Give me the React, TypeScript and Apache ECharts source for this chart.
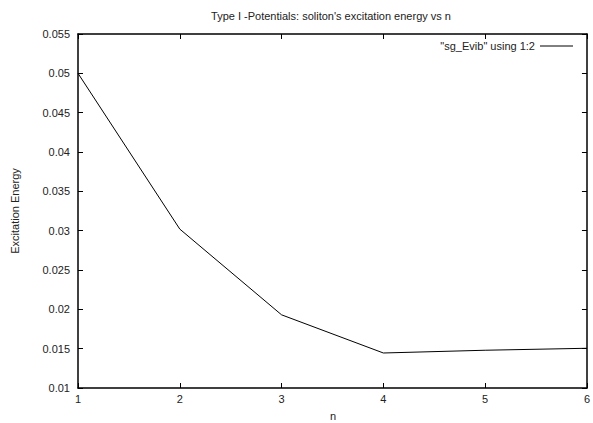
import React, { useEffect, useRef } from "react";
import * as echarts from "echarts";

const nValues = [1, 2, 3, 4, 5, 6];
const excitationEnergy = [0.05, 0.0302, 0.0193, 0.01445, 0.0148, 0.01505];
const titleText = "Type I -Potentials: soliton's excitation energy vs n";
const legendText = '"sg_Evib" using 1:2';
const xName = "n";
const yName = "Excitation Energy";

export default function App() {
  const ref = useRef<HTMLDivElement>(null);
  useEffect(() => {
    document.body.style.margin = "0";
    if (!ref.current) return;
    const chart = echarts.init(ref.current, null, { renderer: "svg" });
    const font = "Liberation Sans, Arial, sans-serif";
    const tick = { show: true, inside: true, length: 5, lineStyle: { color: "#000" } };
    const line = { show: true, lineStyle: { color: "#000", width: 1.5 } };
    const fmt = (v: number) => parseFloat(v.toFixed(4)).toString();
    chart.setOption({
      animation: false,
      backgroundColor: "#fff",
      textStyle: { fontFamily: font },
      grid: { left: 78, right: 5, top: 34, bottom: 35, containLabel: false },
      xAxis: [
        {
          type: "value", min: 1, max: 6, interval: 1,
          axisLine: line, axisTick: tick, splitLine: { show: false },
          axisLabel: { color: "#222", fontSize: 11, fontFamily: font, margin: 5 },
        },
        {
          type: "value", position: "top", min: 1, max: 6, interval: 1,
          axisLine: line, axisTick: tick, splitLine: { show: false },
          axisLabel: { show: false },
        },
      ],
      yAxis: [
        {
          type: "value", min: 0.01, max: 0.055, interval: 0.005,
          axisLine: line, axisTick: tick, splitLine: { show: false },
          axisLabel: { color: "#222", fontSize: 11, fontFamily: font, margin: 8, formatter: fmt },
        },
        {
          type: "value", position: "right", min: 0.01, max: 0.055, interval: 0.005,
          axisLine: line, axisTick: tick, splitLine: { show: false },
          axisLabel: { show: false },
        },
      ],
      series: [
        {
          type: "line",
          data: nValues.map((n, i) => [n, excitationEnergy[i]]),
          showSymbol: false,
          lineStyle: { color: "#000", width: 1 },
          silent: true,
        },
      ],
      graphic: [
        { type: "text", x: 331, y: 16, style: { text: titleText, fill: "#222", font: `11px ${font}`, textAlign: "center", textVerticalAlign: "middle" } },
        { type: "text", x: 535, y: 46, style: { text: legendText, fill: "#222", font: `11px ${font}`, textAlign: "right", textVerticalAlign: "middle" } },
        { type: "line", shape: { x1: 540, y1: 46, x2: 573, y2: 46 }, style: { stroke: "#000", lineWidth: 1 } },
        { type: "text", x: 333, y: 416, style: { text: xName, fill: "#222", font: `11px ${font}`, textAlign: "center", textVerticalAlign: "middle" } },
        { type: "text", x: 15, y: 211, rotation: Math.PI / 2, style: { text: yName, fill: "#222", font: `11px ${font}`, textAlign: "center", textVerticalAlign: "middle" } },
      ],
    });
    return () => chart.dispose();
  }, []);
  return <div ref={ref} style={{ width: 593, height: 423 }} />;
}
